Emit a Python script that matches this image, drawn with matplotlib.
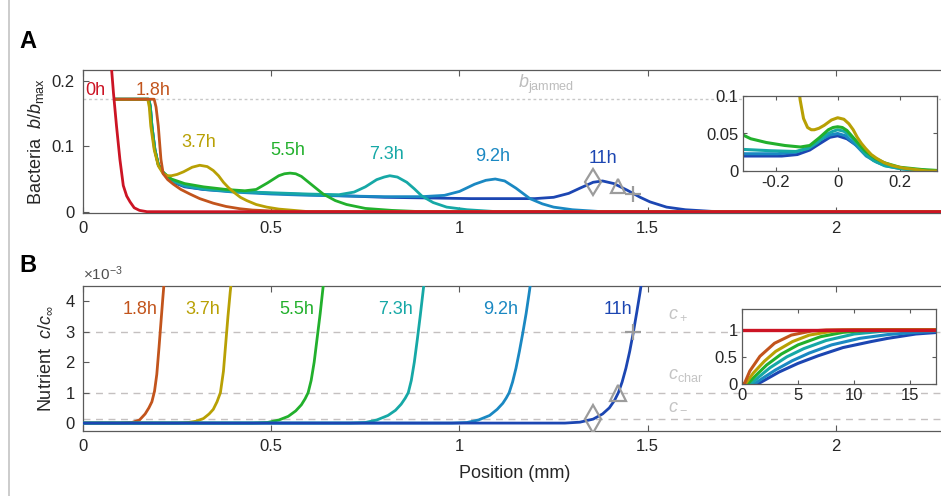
import numpy as np
import matplotlib
matplotlib.use('Agg')
import matplotlib.pyplot as plt
from matplotlib.lines import Line2D

plt.rcParams['font.family'] = ['Liberation Sans', 'DejaVu Sans']
plt.rcParams['mathtext.fontset'] = 'custom'
plt.rcParams['mathtext.rm'] = 'Liberation Sans'
plt.rcParams['mathtext.it'] = 'Liberation Sans:italic'
plt.rcParams['mathtext.bf'] = 'Liberation Sans:bold'
plt.rcParams['axes.unicode_minus'] = False

times = ['0h', '1.8h', '3.7h', '5.5h', '7.3h', '9.2h', '11h']
colors = ['#cc1424', '#c2541c', '#b8a004', '#22b02c', '#16a8a6', '#1a88c2', '#1c46b2']

# bacteria density b/b_max vs position (mm)
bac_x_0h = [0.07, 0.076, 0.081, 0.089, 0.098, 0.107, 0.116, 0.125, 0.136, 0.15, 0.17, 2.3]
bac_y_0h = [0.26, 0.217, 0.181, 0.131, 0.080, 0.040, 0.024, 0.015, 0.006, 0.002, 0.0, 0.0]
bac_x_1h8 = [0.085, 0.189, 0.194, 0.2, 0.207, 0.213, 0.225, 0.24, 0.26, 0.284, 0.31, 0.346,
             0.38, 0.417, 0.45, 0.488, 0.55, 2.3]
bac_y_1h8 = [0.172, 0.172, 0.160, 0.131, 0.080, 0.058, 0.049, 0.042, 0.034, 0.027, 0.020, 0.013,
             0.008, 0.0045, 0.0025, 0.0015, 0.0, 0.0]
bac_x_3h7 = [0.085, 0.172, 0.176, 0.18, 0.189, 0.2, 0.213, 0.225, 0.235, 0.25, 0.267, 0.29, 0.31,
             0.33, 0.346, 0.36, 0.373, 0.386, 0.4, 0.418, 0.435, 0.46, 0.488, 0.52, 0.56, 0.6, 2.3]
bac_y_3h7 = [0.172, 0.172, 0.160, 0.131, 0.095, 0.070, 0.058, 0.055, 0.055, 0.057, 0.061, 0.068, 0.071,
             0.069, 0.063, 0.055, 0.045, 0.037, 0.030, 0.022, 0.017, 0.011, 0.007, 0.004, 0.002, 0.0, 0.0]
bac_x_5h5 = [0.085, 0.174, 0.178, 0.182, 0.19, 0.2, 0.213, 0.235, 0.27, 0.32, 0.38, 0.43, 0.46, 0.49,
             0.52, 0.535, 0.55, 0.565, 0.58, 0.61, 0.638, 0.67, 0.7, 0.75, 0.82, 0.9, 2.3]
bac_y_5h5 = [0.172, 0.172, 0.160, 0.131, 0.095, 0.072, 0.060, 0.050, 0.043, 0.038, 0.034, 0.032, 0.034, 0.044,
             0.055, 0.058, 0.059, 0.058, 0.054, 0.040, 0.027, 0.017, 0.011, 0.005, 0.002, 0.0, 0.0]
bac_x_7h3 = [0.085, 0.175, 0.179, 0.183, 0.191, 0.2, 0.213, 0.235, 0.27, 0.32, 0.4, 0.5, 0.6, 0.68,
             0.72, 0.75, 0.78, 0.80, 0.815, 0.835, 0.86, 0.88, 0.9, 0.93, 0.966, 1.02, 1.1, 2.3]
bac_y_7h3 = [0.172, 0.172, 0.160, 0.131, 0.095, 0.072, 0.060, 0.048, 0.040, 0.035, 0.031, 0.029, 0.027, 0.026,
             0.030, 0.038, 0.049, 0.053, 0.055, 0.053, 0.045, 0.035, 0.024, 0.014, 0.007, 0.003, 0.0, 0.0]
bac_x_9h2 = [0.085, 0.175, 0.179, 0.183, 0.191, 0.2, 0.213, 0.235, 0.27, 0.32, 0.4, 0.5, 0.6, 0.7, 0.8,
             0.9, 0.96, 1.0, 1.04, 1.07, 1.095, 1.12, 1.15, 1.187, 1.22, 1.25, 1.3, 1.38, 2.3]
bac_y_9h2 = [0.172, 0.172, 0.160, 0.131, 0.095, 0.072, 0.060, 0.047, 0.039, 0.034, 0.030, 0.027, 0.025, 0.024, 0.023,
             0.023, 0.025, 0.031, 0.042, 0.048, 0.050, 0.047, 0.036, 0.020, 0.012, 0.007, 0.003, 0.0, 0.0]
bac_x_11h = [0.085, 0.175, 0.179, 0.183, 0.191, 0.2, 0.213, 0.235, 0.27, 0.32, 0.4, 0.5, 0.66, 0.8, 1.03,
             1.2, 1.25, 1.29, 1.32, 1.355, 1.38, 1.41, 1.445, 1.48, 1.506, 1.55, 1.6, 1.67, 1.75, 2.3]
bac_y_11h = [0.172, 0.172, 0.160, 0.131, 0.095, 0.072, 0.060, 0.046, 0.038, 0.034, 0.031, 0.028, 0.025, 0.022, 0.020,
             0.020, 0.022, 0.028, 0.036, 0.045, 0.047, 0.043, 0.033, 0.022, 0.015, 0.007, 0.003, 0.0005, 0.0, 0.0]

# peak (front) position of each travelling band, 3.7h .. 11h
front_pos = [0.31, 0.55, 0.815, 1.095, 1.38]

# nutrient c/c_inf near the fronts, in units of 1e-3
nut_x_1h8 = [0, 0.10, 0.13, 0.15, 0.165, 0.175, 0.183, 0.19, 0.196, 0.202, 0.207, 0.212, 0.218]
nut_y_1h8 = [0, 0, 0.02, 0.1, 0.3, 0.5, 0.7, 1.05, 1.6, 2.5, 3.3, 4.1, 5.0]
nut_x_3h7 = [0, 0.25, 0.28, 0.30, 0.32, 0.335, 0.346, 0.356, 0.365, 0.373, 0.379, 0.385, 0.391, 0.397]
nut_y_3h7 = [0, 0, 0.02, 0.06, 0.15, 0.3, 0.45, 0.7, 1.0, 1.7, 2.6, 3.5, 4.3, 5.0]
nut_x_5h5 = [0, 0.45, 0.49, 0.52, 0.545, 0.565, 0.58, 0.59, 0.598, 0.606, 0.614, 0.622, 0.63, 0.638, 0.645]
nut_y_5h5 = [0, 0, 0.02, 0.1, 0.22, 0.4, 0.6, 0.8, 1.0, 1.4, 2.0, 2.8, 3.6, 4.5, 5.2]
nut_x_7h3 = [0, 0.71, 0.75, 0.78, 0.81, 0.83, 0.845, 0.856, 0.864, 0.872, 0.88, 0.888, 0.896, 0.904, 0.911]
nut_y_7h3 = [0, 0, 0.02, 0.1, 0.25, 0.42, 0.62, 0.82, 1.0, 1.4, 2.0, 2.75, 3.55, 4.4, 5.1]
nut_x_9h2 = [0, 0.98, 1.02, 1.05, 1.08, 1.1, 1.115, 1.124, 1.132, 1.141, 1.15, 1.159, 1.168, 1.177, 1.186, 1.193]
nut_y_9h2 = [0, 0, 0.02, 0.1, 0.25, 0.45, 0.65, 0.82, 1.0, 1.35, 1.8, 2.35, 2.95, 3.6, 4.35, 5.0]
nut_x_11h = [0, 1.28, 1.32, 1.355, 1.38, 1.398, 1.412, 1.422, 1.432, 1.442, 1.452, 1.462, 1.471, 1.479,
             1.487, 1.494, 2.3]
nut_y_11h = [0, 0, 0.03, 0.13, 0.3, 0.5, 0.75, 1.0, 1.35, 1.8, 2.35, 3.0, 3.65, 4.25, 4.9, 5.5, 5.5]
nut_x_11h = nut_x_11h[:-1] + [1.5]
nut_y_11h = nut_y_11h[:-1] + [6.0]

# whole-domain nutrient profiles c/c_inf (position in mm)
full_x_0h = [0, 17.5]
full_y_0h = [1.0, 1.0]
full_x_1h8 = [0, 0.2, 0.7, 1.6, 2.9, 4.4, 6.2, 7.5, 9, 17.5]
full_y_1h8 = [0, 0, 0.24, 0.51, 0.75, 0.9, 0.975, 0.995, 1.0, 1.0]
full_x_3h7 = [0, 0.3, 1, 2, 3, 4.5, 6, 8, 10, 17.5]
full_y_3h7 = [0, 0, 0.2, 0.42, 0.6, 0.78, 0.9, 0.97, 0.995, 1.0]
full_x_5h5 = [0, 0.5, 1.2, 2.2, 3.5, 5, 7, 9, 11, 13, 17.5]
full_y_5h5 = [0, 0, 0.15, 0.35, 0.55, 0.72, 0.87, 0.95, 0.985, 0.997, 1.0]
full_x_7h3 = [0, 0.8, 1.5, 2.5, 4, 5.5, 7.5, 10, 12.5, 15, 17.5]
full_y_7h3 = [0, 0, 0.13, 0.3, 0.5, 0.65, 0.8, 0.92, 0.97, 0.99, 0.995]
full_x_9h2 = [0, 1.1, 1.8, 3, 4.5, 6, 8, 10.5, 13, 15.5, 17.5]
full_y_9h2 = [0, 0, 0.1, 0.26, 0.43, 0.57, 0.72, 0.84, 0.91, 0.95, 0.97]
full_x_11h = [0, 1.4, 2.1, 3.3, 5, 6.8, 9, 11.5, 13, 15.5, 17.5]
full_y_11h = [0, 0, 0.08, 0.22, 0.38, 0.52, 0.67, 0.78, 0.84, 0.92, 0.95]

# threshold levels (c/c_inf, 1e-3) and where the 11h front crosses them
c_levels = [0.13, 1.0, 3.0]
c_cross_x = [1.355, 1.422, 1.462]
b_jammed = 0.172

bac_x = [bac_x_0h, bac_x_1h8, bac_x_3h7, bac_x_5h5, bac_x_7h3, bac_x_9h2, bac_x_11h]
bac_y = [bac_y_0h, bac_y_1h8, bac_y_3h7, bac_y_5h5, bac_y_7h3, bac_y_9h2, bac_y_11h]
nut_x = [nut_x_1h8, nut_x_3h7, nut_x_5h5, nut_x_7h3, nut_x_9h2, nut_x_11h]
nut_y = [nut_y_1h8, nut_y_3h7, nut_y_5h5, nut_y_7h3, nut_y_9h2, nut_y_11h]
full_x = [full_x_0h, full_x_1h8, full_x_3h7, full_x_5h5, full_x_7h3, full_x_9h2, full_x_11h]
full_y = [full_y_0h, full_y_1h8, full_y_3h7, full_y_5h5, full_y_7h3, full_y_9h2, full_y_11h]

W, H = 941, 496
fig = plt.figure(figsize=(W / 100, H / 100), dpi=100)


def px_box(left, top, right, bottom):
    return [left / W, 1 - bottom / H, (right - left) / W, (bottom - top) / H]


def box_style(ax, fs, pad):
    for s in ax.spines.values():
        s.set_color('#5a5a5a')
        s.set_linewidth(0.9)
    ax.tick_params(direction='in', top=True, right=True, length=4, width=0.8,
                   color='#5a5a5a', labelsize=fs, labelcolor='#262626', pad=pad)


ax_a = fig.add_axes(px_box(83, 70, 947, 213))
ax_b = fig.add_axes(px_box(83, 286, 947, 431))
ins_a = fig.add_axes(px_box(743, 96, 937, 171))
ins_b = fig.add_axes(px_box(742, 309, 936, 384))

xmax = (947 - 83) / 376.5
gray = '#9c9c9c'
lw = 2.0

# ---- A: bacteria
ax_a.axhline(b_jammed, color='#c8c8c8', lw=1.0, ls=(0, (2, 2)), zorder=1)
for i in range(6, 0, -1):
    ax_a.plot(bac_x[i], bac_y[i], color=colors[i], lw=lw, zorder=3)
ax_a.plot(bac_x[0], bac_y[0], color=colors[0], lw=lw, zorder=4)

b_marks = [np.interp(x, bac_x_11h, bac_y_11h) for x in c_cross_x]
for mk, ms, x, y in zip(['d', '^', '+'], [13, 10, 11], c_cross_x, b_marks):
    ax_a.plot(x, y, marker=mk, ms=ms, mfc='none', mec=gray, mew=1.6, zorder=5)

ax_a.set_xlim(0, xmax)
ax_a.set_ylim(-0.002, 0.2167)
ax_a.set_xticks([0, 0.5, 1, 1.5, 2])
ax_a.set_xticklabels(['0', '0.5', '1', '1.5', '2'])
ax_a.set_yticks([0, 0.1, 0.2])
ax_a.set_yticklabels(['0', '0.1', '0.2'])
box_style(ax_a, 12, 6)
ax_a.set_ylabel('Bacteria  $b/b_{\\rm max}$', fontsize=13, color='#262626', labelpad=4)

lab_a = [(0.032, 0.186), (0.187, 0.186), (0.308, 0.106), (0.545, 0.094),
         (0.807, 0.088), (1.088, 0.085), (1.38, 0.081)]
for (tx, ty), t, c in zip(lab_a, times, colors):
    ax_a.text(tx, ty, t, color=c, fontsize=13, ha='center', va='center', zorder=6)
ax_a.text(1.155, 0.194, '$b_{\\rm jammed}$', color='#bdbdbd', fontsize=13, ha='left', va='center')

# inset A: bacteria around each front
for i in range(6, 1, -1):
    xs = np.array(bac_x[i]) - front_pos[i - 2]
    ins_a.plot(xs, bac_y[i], color=colors[i], lw=2.2)
ins_a.set_xlim(-0.305, 0.32)
ins_a.set_ylim(0, 0.1)
ins_a.set_xticks([-0.2, 0, 0.2])
ins_a.set_xticklabels(['-0.2', '0', '0.2'])
ins_a.set_yticks([0, 0.05, 0.1])
ins_a.set_yticklabels(['0', '0.05', '0.1'])
box_style(ins_a, 12, 3)
ins_a.tick_params(length=3)

# ---- B: nutrient
for lev in c_levels:
    ax_b.axhline(lev, color='#c4c0c0', lw=1.0, ls=(0, (5, 4)), zorder=1)
for i in range(6):
    ax_b.plot(nut_x[i], nut_y[i], color=colors[i + 1], lw=lw, zorder=3)
for mk, ms, x, y in zip(['d', '^', '+'], [14, 12, 11], c_cross_x, c_levels):
    ax_b.plot(x, y, marker=mk, ms=ms, mfc='none', mec=gray, mew=1.6, zorder=5)

ax_b.set_xlim(0, xmax)
ax_b.set_ylim(-0.26, 4.5)
ax_b.set_xticks([0, 0.5, 1, 1.5, 2])
ax_b.set_xticklabels(['0', '0.5', '1', '1.5', '2'])
ax_b.set_yticks([0, 1, 2, 3, 4])
ax_b.set_yticklabels(['0', '1', '2', '3', '4'])
box_style(ax_b, 12, 6)
ax_b.set_ylabel('Nutrient  $c/c_\\infty$', fontsize=13, color='#262626', labelpad=8)
ax_b.set_xlabel('Position (mm)', fontsize=13, color='#262626', labelpad=8)
ax_b.text(0.0, 1.02, '$\\times10^{-3}$', transform=ax_b.transAxes, fontsize=11,
          color='#505050', ha='left', va='bottom')

lab_b_x = [0.151, 0.317, 0.567, 0.831, 1.11, 1.42]
for tx, t, c in zip(lab_b_x, times[1:], colors[1:]):
    ax_b.text(tx, 3.73, t, color=c, fontsize=13, ha='center', va='center', zorder=6)
for ty, s in zip([3.6, 1.55, 0.6], ['$c_+$', '$c_{\\rm char}$', '$c_-$']):
    ax_b.text(1.553, ty, s, color='#c4c4c4', fontsize=13, ha='left', va='center')

# inset B: nutrient over the whole domain
for i in range(6, -1, -1):
    ins_b.plot(full_x[i], full_y[i], color=colors[i], lw=2.2 if i else 2.4)
ins_b.set_xlim(0, 17.3)
ins_b.set_ylim(0, 1.38)
ins_b.set_xticks([0, 5, 10, 15])
ins_b.set_yticks([0, 0.5, 1])
ins_b.set_yticklabels(['0', '0.5', '1'])
box_style(ins_b, 12, 3)
ins_b.tick_params(length=3)

fig.text(28 / W, 1 - 42 / H, 'A', fontsize=17, fontweight='bold', ha='center', va='center')
fig.text(28 / W, 1 - 265 / H, 'B', fontsize=17, fontweight='bold', ha='center', va='center')
fig.add_artist(Line2D([8.5 / W, 8.5 / W], [0, 1], color='#c4c4c4', lw=1.2))

fig.savefig('out.png', dpi=100)
